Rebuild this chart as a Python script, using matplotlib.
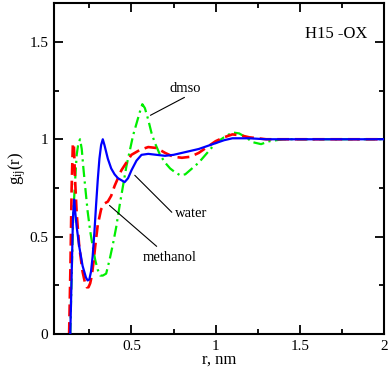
import matplotlib
matplotlib.use('Agg')
import matplotlib.pyplot as plt
from matplotlib.ticker import MultipleLocator, FormatStrFormatter

plt.rcParams['font.family'] = ['Liberation Serif', 'DejaVu Serif']
plt.rcParams['mathtext.fontset'] = 'custom'
plt.rcParams['mathtext.rm'] = 'Liberation Serif'
plt.rcParams['mathtext.it'] = 'Liberation Serif'

# water (blue, solid)
r_water = [0.137, 0.145, 0.153, 0.16, 0.167, 0.175, 0.19, 0.21, 0.23, 0.24, 0.25, 0.26,
           0.27, 0.28, 0.29, 0.30, 0.31, 0.32, 0.33, 0.34, 0.36, 0.38, 0.40, 0.42, 0.44,
           0.46, 0.48, 0.50, 0.53, 0.56, 0.60, 0.65, 0.70, 0.75, 0.80, 0.85, 0.90, 0.95,
           1.00, 1.05, 1.10, 1.20, 1.30, 1.40, 1.50, 1.60, 1.70, 1.80, 1.90, 2.00]
g_water = [0.0, 0.30, 0.60, 0.69, 0.62, 0.55, 0.45, 0.35, 0.29, 0.275, 0.28, 0.32,
           0.40, 0.52, 0.66, 0.79, 0.90, 0.97, 1.0, 0.97, 0.90, 0.85, 0.82, 0.80, 0.79,
           0.78, 0.80, 0.84, 0.89, 0.92, 0.925, 0.92, 0.915, 0.92, 0.93, 0.94, 0.95, 0.965,
           0.98, 0.995, 1.005, 1.005, 1.0, 1.0, 1.0, 1.0, 1.0, 1.0, 1.0, 1.0]

# methanol (red, dashed)
r_meth = [0.130, 0.138, 0.145, 0.152, 0.158, 0.165, 0.175, 0.19, 0.21, 0.225, 0.235,
          0.245, 0.255, 0.265, 0.275, 0.285, 0.30, 0.32, 0.34, 0.36, 0.38, 0.40, 0.42,
          0.44, 0.47, 0.50, 0.55, 0.60, 0.65, 0.70, 0.75, 0.80, 0.85, 0.90, 0.95, 1.00,
          1.05, 1.10, 1.15, 1.20, 1.30, 1.40, 1.50, 1.60, 1.70, 1.80, 1.90, 2.00]
g_meth = [0.0, 0.35, 0.75, 0.97, 0.98, 0.80, 0.62, 0.45, 0.32, 0.26, 0.24,
          0.24, 0.26, 0.30, 0.37, 0.45, 0.56, 0.64, 0.67, 0.68, 0.71, 0.76, 0.80,
          0.84, 0.88, 0.92, 0.945, 0.96, 0.955, 0.93, 0.91, 0.905, 0.91, 0.93, 0.96, 0.99,
          1.01, 1.025, 1.02, 1.01, 1.0, 1.0, 1.0, 1.0, 1.0, 1.0, 1.0, 1.0]

# dmso (green, dash-dot)
r_dmso = [0.137, 0.145, 0.155, 0.165, 0.175, 0.185, 0.195, 0.205, 0.215, 0.225, 0.24,
          0.255, 0.27, 0.285, 0.30, 0.315, 0.33, 0.35, 0.37, 0.39, 0.41, 0.43, 0.45,
          0.47, 0.49, 0.51, 0.53, 0.55, 0.565, 0.58, 0.60, 0.62, 0.64, 0.67, 0.70, 0.73,
          0.76, 0.79, 0.82, 0.86, 0.90, 0.95, 1.00, 1.05, 1.10, 1.14, 1.18, 1.22, 1.27,
          1.32, 1.40, 1.50, 1.60, 1.70, 1.80, 1.90, 2.00]
g_dmso = [0.0, 0.30, 0.62, 0.78, 0.92, 0.98, 1.0, 0.95, 0.85, 0.76, 0.63,
          0.53, 0.45, 0.38, 0.33, 0.30, 0.30, 0.31, 0.38, 0.46, 0.55, 0.66, 0.76,
          0.86, 0.94, 1.02, 1.08, 1.14, 1.18, 1.16, 1.10, 1.03, 0.98, 0.92, 0.88, 0.85,
          0.83, 0.815, 0.82, 0.85, 0.88, 0.93, 0.98, 1.01, 1.035, 1.03, 1.01, 0.985, 0.975,
          0.99, 1.0, 1.0, 1.0, 1.0, 1.0, 1.0, 1.0]

fig = plt.figure(figsize=(3.91, 3.68), dpi=100)
ax = fig.add_axes([0.138, 0.0924, 0.844, 0.8996])

ax.plot(r_water, g_water, color='blue', lw=1.6, zorder=3)
ax.plot(r_meth, g_meth, color='red', lw=1.9, dashes=(4.5, 2.2), zorder=2)
ax.plot(r_dmso, g_dmso, color='#00ee00', lw=1.6, dashes=(5, 2, 1, 2), zorder=1)

ax.set_xlim(0.04, 2)
ax.set_ylim(0, 1.7)
ax.xaxis.set_major_locator(MultipleLocator(0.5))
ax.xaxis.set_minor_locator(MultipleLocator(0.25))
ax.yaxis.set_major_locator(MultipleLocator(0.5))
ax.yaxis.set_minor_locator(MultipleLocator(0.25))
ax.xaxis.set_major_formatter(FormatStrFormatter('%g'))
ax.yaxis.set_major_formatter(FormatStrFormatter('%g'))
ax.tick_params(which='both', direction='in', top=True, right=True, width=1.3, labelsize=11)
ax.tick_params(which='major', length=6.5, pad=4)
ax.tick_params(which='minor', length=3.5)
for s in ax.spines.values():
    s.set_linewidth(1.5)

ax.set_xlabel('r, nm', fontsize=12, labelpad=-1)
ax.set_ylabel(r'$\mathregular{g_{ij}(r)}$', fontsize=12, labelpad=1)

line_kw = dict(arrowstyle='-', lw=0.8, color='black', shrinkA=0, shrinkB=0)
ax.annotate('', xy=(0.613, 1.123), xytext=(0.815, 1.215), arrowprops=line_kw)
ax.text(0.726, 1.26, 'dmso', fontsize=10.5, va='center', ha='left')
ax.annotate('', xy=(0.52, 0.815), xytext=(0.74, 0.625), arrowprops=line_kw)
ax.text(0.756, 0.62, 'water', fontsize=10.5, va='center', ha='left')
ax.annotate('', xy=(0.37, 0.66), xytext=(0.65, 0.45), arrowprops=line_kw)
ax.text(0.565, 0.395, 'methanol', fontsize=10.5, va='center', ha='left')

ax.text(1.714, 1.54, 'H15 -OX', fontsize=12, va='center', ha='center')

fig.savefig('out.png', dpi=100)
